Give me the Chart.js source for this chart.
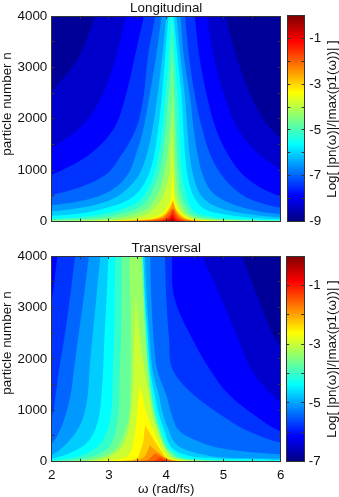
<!DOCTYPE html>
<html>
<head>
<meta charset="utf-8">
<script src="https://cdn.jsdelivr.net/npm/chart.js@4/dist/chart.umd.js"></script>
<style>
html, body { margin: 0; padding: 0; background: #fff; width: 339px; height: 497px; overflow: hidden; }
canvas { position: absolute; }
</style>
</head>
<body>
<canvas id="long-map" width="285" height="240" style="left:0;top:0"></canvas>
<canvas id="long-bar" width="54" height="240" style="left:285px;top:0"></canvas>
<canvas id="trans-map" width="285" height="257" style="left:0;top:240px"></canvas>
<canvas id="trans-bar" width="53" height="257" style="left:286px;top:240px"></canvas>
<script>
var nGrid = [0, 15, 40, 80, 150, 250, 400, 600, 900, 1300, 1800, 2400, 3200, 4000];

var omegaTicks = [2, 2.5, 3, 3.5, 4, 4.5, 5, 5.5, 6];
var omegaLabels = [2, 3, 4, 5, 6];
var nTicks = [0, 500, 1000, 1500, 2000, 2500, 3000, 3500, 4000];
var nLabels = [0, 1000, 2000, 3000, 4000];

var longBarTicks = [-9, -8, -7, -6, -5, -4, -3, -2, -1, 0];
var longBarLabels = [-9, -7, -5, -3, -1];
var longBarRange = [-9, 0];
var transBarTicks = [-7, -6, -5, -4, -3, -2, -1, 0];
var transBarLabels = [-7, -5, -3, -1];
var transBarRange = [-7, 0];

// Longitudinal: omega of each contour, left and right of the peak, one row per level
var longLevels = [-8.55, -8.1, -7.65, -7.2, -6.75, -6.3, -5.85, -5.4, -4.95, -4.5, -4.05, -3.6, -3.15, -2.7, -2.25, -1.8, -1.35, -0.9, -0.45];
var longLeft = [
    [1, 1, 1, 1, 1, 1, 1, 1, 1, 1, 1.4, 1.9, 2.47, 2.76],
    [1, 1, 1, 1, 1, 1, 1, 1, 1.3, 1.8, 2.47, 2.86, 3.12, 3.3],
    [1, 1, 1, 1, 1, 1, 1, 1.2, 1.98, 2.65, 3.08, 3.28, 3.45, 3.61],
    [1, 1, 1, 1, 1, 1, 1.4, 2.3, 2.93, 3.22, 3.47, 3.6, 3.68, 3.81],
    [1, 1, 1, 1, 1, 1.5, 2.5, 3.03, 3.32, 3.47, 3.6, 3.7, 3.82, 3.92],
    [1, 1, 1, 1, 1.5, 2.4, 2.98, 3.28, 3.52, 3.66, 3.76, 3.84, 3.93, 4],
    [1, 1, 1, 1.5, 2.45, 2.9, 3.3, 3.53, 3.69, 3.79, 3.86, 3.92, 3.98, 4.04],
    [1, 1, 1.5, 2.45, 2.9, 3.25, 3.53, 3.66, 3.78, 3.87, 3.93, 3.98, 4.04, 4.09],
    [1, 1.5, 2.2, 2.85, 3.2, 3.48, 3.66, 3.76, 3.87, 3.94, 3.99, 4.04, 4.09, 4.1],
    [1.5, 2.1, 2.9, 3.2, 3.45, 3.67, 3.78, 3.88, 3.96, 4.02, 4.07, 4.1, 4.11],
    [1.8, 2.6, 3.2, 3.45, 3.68, 3.79, 3.9, 3.98, 4.05, 4.08, 4.1],
    [2.3, 3, 3.5, 3.75, 3.92, 4, 4.07, 4.09, 4.11],
    [2.7, 3.2, 3.65, 3.85, 3.97, 4.04, 4.11],
    [3, 3.4, 3.75, 3.92, 4, 4.07, 4.12],
    [3.4, 3.55, 3.82, 3.96, 4.03, 4.1],
    [3.7, 3.8, 3.95, 4.03, 4.08, 4.12],
    [3.85, 3.93, 4.02, 4.07, 4.11],
    [3.98, 4.02, 4.07, 4.11],
    [4.05, 4.07, 4.11]
];
var longRight = [
    [7, 7, 7, 7, 7, 7, 7, 7, 7, 6.4, 5.83, 5.5, 5.23, 5.03],
    [7, 7, 7, 7, 7, 7, 7, 7, 6.2, 5.63, 5.25, 5.03, 4.83, 4.71],
    [7, 7, 7, 7, 7, 7, 6.3, 5.75, 5.35, 5.08, 4.87, 4.72, 4.58, 4.5],
    [7, 7, 7, 7, 7, 6.1, 5.55, 5.23, 4.97, 4.77, 4.63, 4.51, 4.4, 4.33],
    [7, 7, 7, 7, 5.95, 5.42, 5.03, 4.78, 4.64, 4.55, 4.48, 4.42, 4.31, 4.25],
    [7, 7, 7, 6, 5.4, 4.97, 4.7, 4.56, 4.47, 4.41, 4.37, 4.33, 4.25, 4.18],
    [7, 7, 6.05, 5.45, 4.95, 4.66, 4.53, 4.44, 4.37, 4.33, 4.3, 4.27, 4.2, 4.13],
    [7, 6.5, 5.5, 4.88, 4.57, 4.45, 4.38, 4.33, 4.28, 4.25, 4.23, 4.21, 4.15, 4.1],
    [7, 6, 5, 4.65, 4.44, 4.38, 4.3, 4.25, 4.22, 4.19, 4.17, 4.15, 4.12, 4.1],
    [6.6, 5.5, 4.75, 4.5, 4.37, 4.3, 4.24, 4.2, 4.17, 4.15, 4.14, 4.12, 4.11],
    [6.2, 5.1, 4.6, 4.42, 4.32, 4.25, 4.19, 4.15, 4.14, 4.13, 4.11],
    [5.6, 4.8, 4.48, 4.36, 4.27, 4.2, 4.15, 4.13, 4.12],
    [5.2, 4.65, 4.42, 4.32, 4.24, 4.17, 4.12],
    [4.9, 4.5, 4.37, 4.28, 4.21, 4.16, 4.12],
    [4.6, 4.42, 4.32, 4.24, 4.18, 4.13],
    [4.4, 4.32, 4.25, 4.19, 4.15, 4.12],
    [4.26, 4.22, 4.17, 4.14, 4.11],
    [4.2, 4.17, 4.14, 4.11],
    [4.16, 4.13, 4.11]
];

// Transversal: same layout, other level range
var transLevels = [-6.65, -6.3, -5.95, -5.6, -5.25, -4.9, -4.55, -4.2, -3.85, -3.5, -3.15, -2.8, -2.45, -2.1, -1.75, -1.4, -1.05, -0.7, -0.35];
var transLeft = [
    [1, 1, 1, 1, 1, 1, 1, 1, 1, 1, 1, 1, 1, 1],
    [1, 1, 1, 1, 1, 1, 1, 1, 1, 1, 1, 1, 1, 1],
    [1, 1, 1, 1, 1, 1, 1, 1, 1, 1.4, 1.7, 1.9, 2.01, 2.1],
    [1, 1, 1, 1, 1, 1, 1.4, 1.9, 2.01, 2.07, 2.13, 2.22, 2.32, 2.41],
    [1, 1, 1, 1, 1.7, 1.9, 2.04, 2.14, 2.24, 2.33, 2.39, 2.46, 2.56, 2.65],
    [1, 1, 1, 1.8, 2.03, 2.16, 2.3, 2.44, 2.56, 2.63, 2.66, 2.71, 2.78, 2.85],
    [1, 1.6, 1.95, 2.08, 2.28, 2.47, 2.64, 2.75, 2.83, 2.87, 2.9, 2.92, 2.96, 2.99],
    [1.4, 1.7, 2.1, 2.38, 2.58, 2.75, 2.88, 2.97, 3.03, 3.06, 3.07, 3.09, 3.1, 3.11],
    [1.7, 2.1, 2.4, 2.62, 2.82, 2.97, 3.06, 3.12, 3.16, 3.18, 3.19, 3.21, 3.22, 3.22],
    [2, 2.42, 2.68, 2.85, 3, 3.12, 3.2, 3.28, 3.35, 3.37, 3.38, 3.38, 3.37, 3.36],
    [2.2, 2.58, 2.82, 2.97, 3.09, 3.2, 3.28, 3.34, 3.38, 3.41, 3.43, 3.44, 3.47],
    [2.5, 2.85, 3.1, 3.28, 3.36, 3.4, 3.43, 3.46, 3.49, 3.52],
    [2.75, 3.15, 3.42, 3.5, 3.53, 3.56, 3.6, 3.62],
    [3, 3.3, 3.5, 3.6, 3.65, 3.69],
    [3.3, 3.55, 3.68, 3.73, 3.79],
    [3.55, 3.75, 3.84],
    [3.75, 3.9],
    [3.85],
    [3.92]
];
var transRight = [
    [7, 7, 7, 7, 7, 7, 7, 7, 7, 7, 6.3, 5.9, 5.6, 5.32],
    [7, 7, 7, 7, 7, 7, 7, 7, 6.3, 5.85, 5.48, 5.25, 4.95, 4.62],
    [7, 7, 7, 7, 7, 7, 6.5, 5.97, 5.55, 5.1, 4.76, 4.45, 4.14, 4.1],
    [7, 7, 7, 7, 7, 6.6, 5.9, 5.42, 4.97, 4.48, 4.11, 4.05, 4, 3.98],
    [7, 7, 7, 7, 5.9, 5, 4.55, 4.23, 4.1, 4, 3.84, 3.78, 3.74, 3.72],
    [7, 7, 7, 5, 4.6, 4.3, 4.13, 4.05, 3.95, 3.87, 3.76, 3.71, 3.66, 3.63],
    [7, 7, 5.8, 4.62, 4.28, 4.12, 4.03, 3.97, 3.88, 3.8, 3.72, 3.68, 3.63, 3.6],
    [7, 6.5, 4.65, 4.28, 4.18, 4.06, 3.99, 3.92, 3.83, 3.76, 3.7, 3.66, 3.62, 3.59],
    [7, 5.5, 4.45, 4.2, 4.12, 4.02, 3.95, 3.89, 3.81, 3.74, 3.69, 3.65, 3.61, 3.58],
    [6.5, 4.9, 4.3, 4.15, 4.08, 4, 3.93, 3.87, 3.79, 3.73, 3.68, 3.64, 3.6, 3.57],
    [5.8, 4.6, 4.25, 4.1, 4.04, 3.98, 3.92, 3.85, 3.76, 3.7, 3.62, 3.54, 3.47],
    [5.2, 4.4, 4.15, 4.03, 3.98, 3.92, 3.86, 3.78, 3.67, 3.58],
    [4.9, 4.28, 4.1, 4, 3.95, 3.89, 3.8, 3.69],
    [4.6, 4.18, 4.06, 3.97, 3.9, 3.78],
    [4.35, 4.12, 4.03, 3.96, 3.83],
    [4.2, 4.08, 3.97],
    [4.12, 4.03],
    [4.08],
    [4.04]
];
// where the inner contours close, between two rows of nGrid
var transTipOmega = [null, null, null, null, null, null, null, null, null, null, null, 3.54, 3.63, 3.71, 3.8, 3.89, 3.96, 3.98, 3.98];
var transTipN = [null, null, null, null, null, null, null, null, null, null, null, 1505, 714, 325, 167, 70, 30, 14, 6];

var bandColors = ['#000099', '#0000CC', '#0000FF', '#0033FF', '#0066FF', '#0099FF', '#00CCFF', '#00FFFF', '#33FFCC', '#66FF99',
    '#99FF66', '#CCFF33', '#FFFF00', '#FFCC00', '#FF9900', '#FF6600', '#FF3300', '#FF0000', '#CC0000', '#990000'];

var jetStops = ['#00007F', '#0000FF', '#007FFF', '#00FFFF', '#7FFF7F', '#FFFF00', '#FF7F00', '#FF0000', '#7F0000'];

var axisColor = '#333';
var textColor = '#111';
var fontFamily = '"Liberation Sans", Arial, sans-serif';
var fontSize = 13.4;

Chart.defaults.font.family = fontFamily;
Chart.defaults.font.size = fontSize;
Chart.defaults.color = textColor;

// every contour is a closed shape holding the area above its level
function contourDatasets(levels, left, right, tipOmega, tipN) {
    var sets = [];
    for (var i = levels.length - 1; i >= 0; i--) {
        var pts = [];
        for (var j = 0; j < left[i].length; j++) {
            pts.push({x: left[i][j], y: nGrid[j]});
        }
        // doubled points keep the spline from bulging where the shape turns
        var last = left[i].length - 1;
        pts.push({x: left[i][last], y: nGrid[last]});
        if (tipOmega && tipOmega[i] !== null) {
            pts.push({x: tipOmega[i], y: tipN[i]});
            pts.push({x: tipOmega[i], y: tipN[i]});
        }
        pts.push({x: right[i][last], y: nGrid[last]});
        for (var k = last; k >= 0; k--) {
            pts.push({x: right[i][k], y: nGrid[k]});
        }
        sets.push({
            label: String(levels[i]),
            data: pts,
            xAxisID: 'x',
            yAxisID: 'y',
            showLine: true,
            fill: 'shape',
            backgroundColor: bandColors[i + 1],
            borderWidth: 0,
            pointRadius: 0,
            tension: 0.35,
            capBezierPoints: false
        });
    }
    return sets;
}

function tickScale(position, tickValues, labelValues, size, showLabels, pad) {
    var horizontal = position == 'top' || position == 'bottom';
    return {
        type: 'linear',
        position: position,
        min: tickValues[0],
        max: tickValues[tickValues.length - 1],
        grid: {drawOnChartArea: false, tickLength: -3, tickColor: axisColor, z: 1},
        border: {color: axisColor, z: 2},
        ticks: {
            display: showLabels,
            padding: pad,
            autoSkip: false,
            maxRotation: 0,
            color: textColor,
            callback: function (v) {
                return labelValues.indexOf(v) >= 0 ? String(v) : '';
            }
        },
        afterBuildTicks: function (scale) {
            scale.ticks = tickValues.map(function (v) { return {value: v}; });
        },
        afterFit: function (scale) {
            if (horizontal) {
                scale.height = size;
            } else {
                scale.width = size;
            }
            // the labels may hang over the edges, keep the plot box fixed
            scale.paddingLeft = scale.paddingRight = scale.paddingTop = scale.paddingBottom = 0;
        }
    };
}

var plotBackground = {
    id: 'plotBackground',
    beforeDatasetsDraw: function (chart) {
        var a = chart.chartArea;
        chart.ctx.save();
        chart.ctx.fillStyle = bandColors[0];
        chart.ctx.fillRect(a.left, a.top, a.right - a.left, a.bottom - a.top);
        chart.ctx.restore();
    }
};

// rotated label reading upwards, the scale title cannot do that on the right
var sideLabel = {
    id: 'sideLabel',
    afterDraw: function (chart, args, opts) {
        var ctx = chart.ctx;
        ctx.save();
        ctx.translate(opts.x, opts.y);
        ctx.rotate(-Math.PI / 2);
        ctx.font = fontSize + 'px ' + fontFamily;
        ctx.fillStyle = textColor;
        ctx.textAlign = 'center';
        ctx.textBaseline = 'middle';
        ctx.fillText(opts.text, 0, 0);
        ctx.restore();
    }
};

function drawMap(id, title, levels, left, right, tipOmega, tipN, bottomHeight, showX, labelY) {
    var x = tickScale('bottom', omegaTicks, omegaLabels, bottomHeight, showX, 9);
    if (showX) {
        x.title = {display: true, text: 'ω (rad/fs)', color: textColor, font: {size: fontSize}, padding: {top: 1, bottom: 0}};
    }
    return new Chart(document.getElementById(id), {
        type: 'scatter',
        data: {datasets: contourDatasets(levels, left, right, tipOmega, tipN)},
        options: {
            responsive: false,
            animation: false,
            layout: {padding: 0},
            scales: {
                x: x,
                y: tickScale('left', nTicks, nLabels, 51.7, true, 7.4),
                x2: tickScale('top', omegaTicks, omegaLabels, 0, false, 0),
                y2: tickScale('right', nTicks, nLabels, 4.3, false, 0)
            },
            plugins: {
                legend: {display: false},
                tooltip: {enabled: false},
                sideLabel: {text: 'particle number n', x: 7, y: labelY},
                title: {
                    display: true,
                    text: title,
                    fullSize: false,
                    color: textColor,
                    font: {size: fontSize, weight: 'normal'},
                    padding: {top: 0, bottom: 0}
                }
            }
        },
        plugins: [plotBackground, sideLabel]
    });
}

function drawBar(id, range, tickValues, labelValues, top, bottom, leftWidth, rightWidth, labelX, labelY) {
    return new Chart(document.getElementById(id), {
        type: 'bar',
        data: {
            labels: [''],
            datasets: [{
                data: [range],
                barPercentage: 1,
                categoryPercentage: 1,
                borderWidth: 0,
                backgroundColor: function (context) {
                    var a = context.chart.chartArea;
                    if (!a) {
                        return jetStops[0];
                    }
                    var g = context.chart.ctx.createLinearGradient(0, a.bottom, 0, a.top);
                    jetStops.forEach(function (c, i) {
                        g.addColorStop(i / (jetStops.length - 1), c);
                    });
                    return g;
                }
            }]
        },
        options: {
            responsive: false,
            animation: false,
            layout: {padding: {top: top}},
            scales: {
                x: {
                    type: 'category',
                    position: 'bottom',
                    grid: {display: false},
                    border: {color: axisColor, z: 2},
                    ticks: {display: false},
                    afterFit: function (scale) { scale.height = bottom; }
                },
                xTop: {
                    type: 'category',
                    axis: 'x',
                    position: 'top',
                    grid: {display: false},
                    border: {color: axisColor, z: 2},
                    ticks: {display: false},
                    afterFit: function (scale) { scale.height = 0; }
                },
                y: tickScale('right', tickValues, labelValues, rightWidth, true, 7.6),
                yLeft: tickScale('left', tickValues, labelValues, leftWidth, false, 0)
            },
            plugins: {
                legend: {display: false},
                tooltip: {enabled: false},
                sideLabel: {text: 'Log[ |pn(ω)|/|max(p1(ω))| ]', x: labelX, y: labelY}
            }
        },
        plugins: [sideLabel]
    });
}

drawMap('long-map', 'Longitudinal', longLevels, longLeft, longRight, null, null, 18.5, false, 104);
drawBar('long-bar', longBarRange, longBarTicks, longBarLabels, 15.5, 18.5, 2.3, 34.3, 47, 119);
drawMap('trans-map', 'Transversal', transLevels, transLeft, transRight, transTipOmega, transTipN, 35.3, true, 103);
drawBar('trans-bar', transBarRange, transBarTicks, transBarLabels, 16, 35.3, 0.2, 34.8, 46, 119);
</script>
</body>
</html>
